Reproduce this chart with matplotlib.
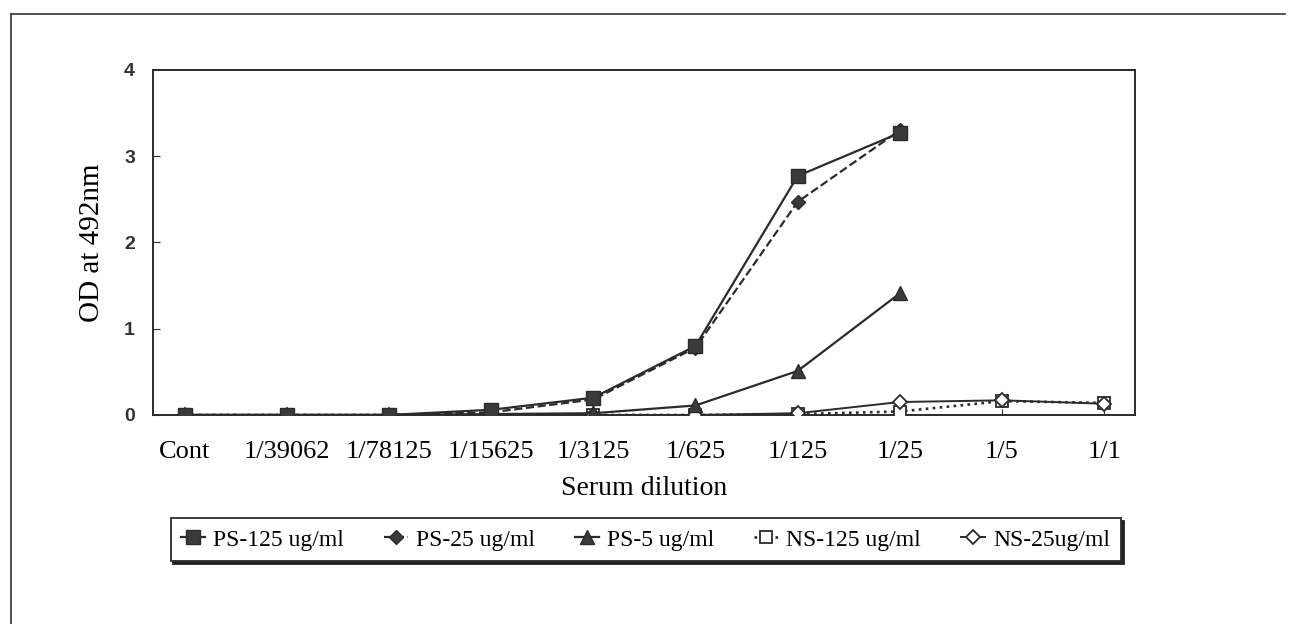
import matplotlib.pyplot as plt
from matplotlib.lines import Line2D

# dilution categories and OD readings per antigen / concentration
dilutions = ["Cont", "1/39062", "1/78125", "1/15625", "1/3125",
             "1/625", "1/125", "1/25", "1/5", "1/1"]
ps125 = [0.0, 0.0, 0.0, 0.06, 0.20, 0.80, 2.77, 3.27]
ps25 = [0.0, 0.0, 0.0, 0.03, 0.18, 0.78, 2.47, 3.30]
ps5 = [0.0, 0.0, 0.0, 0.01, 0.02, 0.11, 0.51, 1.41]
ns125 = [0.0, 0.0, 0.0, 0.0, 0.0, 0.0, 0.01, 0.04, 0.16, 0.14]
ns25 = [0.0, 0.0, 0.0, 0.0, 0.0, 0.0, 0.02, 0.15, 0.17, 0.13]

serif = ["Liberation Serif", "DejaVu Serif"]
sans = ["Liberation Sans", "DejaVu Sans"]
ink = "#2b2b2b"

fig = plt.figure(figsize=(12.94, 6.24), dpi=100)
ax = fig.add_axes([0.1182, 0.335, 0.7588, 0.553])

x = list(range(len(dilutions)))
ax.plot(x[:len(ps125)], ps125, "-", color=ink, lw=1.6, marker="s", ms=10,
        mfc="#3a3a3a", mec=ink, label="PS-125 ug/ml", zorder=5)
ax.plot(x[:len(ps25)], ps25, "--", color=ink, lw=1.6, marker="D", ms=7,
        mfc="#3a3a3a", mec=ink, label="PS-25 ug/ml", zorder=4)
ax.plot(x[:len(ps5)], ps5, "-", color=ink, lw=1.6, marker="^", ms=10,
        mfc="#3a3a3a", mec=ink, label="PS-5 ug/ml", zorder=4)
ax.plot(x, ns125, ":", color=ink, lw=1.9, marker="s", ms=9,
        mfc="white", mec=ink, mew=1.3, label="NS-125 ug/ml", zorder=3)
ax.plot(x, ns25, "-", color=ink, lw=1.4, marker="D", ms=7,
        mfc="white", mec=ink, mew=1.3, label="NS-25ug/ml", zorder=3)

ax.set_xlim(-0.31, 9.3)
ax.set_ylim(0, 4)
ax.set_yticks([0, 1, 2, 3, 4])
ax.set_xticks(x)
ax.set_xticklabels(dilutions, family=serif, fontsize=19)
for lab in ax.get_yticklabels():
    lab.set_family(sans)
    lab.set_fontsize(14)
    lab.set_fontweight("bold")
    lab.set_color("#333333")
ax.tick_params(axis="y", direction="in", length=5, pad=13, color=ink)
ax.tick_params(axis="x", direction="in", length=4, pad=19, color=ink)
for s in ax.spines.values():
    s.set_color(ink)
    s.set_linewidth(1.4)

ax.set_ylabel("OD at 492nm", family=serif, fontsize=21, labelpad=14)
ax.set_xlabel("Serum dilution", family=serif, fontsize=20, labelpad=9)

leg = fig.legend(loc="center", bbox_to_anchor=(0.499, 0.135), ncol=5,
                 prop={"family": serif, "size": 17}, frameon=True,
                 fancybox=False, shadow={"color": "#222222", "alpha": 1},
                 edgecolor=ink, handlelength=1.0, numpoints=1,
                 columnspacing=1.7, handletextpad=0.35, borderpad=0.45)
leg.get_frame().set_linewidth(1.3)

# outer frame of the scanned page
fig.add_artist(Line2D([0.0085, 0.993], [0.9776, 0.9776], color="#333333", lw=1.2))
fig.add_artist(Line2D([0.0085, 0.0085], [0.0, 0.9776], color="#333333", lw=1.2))

fig.savefig("out.png", dpi=100)
